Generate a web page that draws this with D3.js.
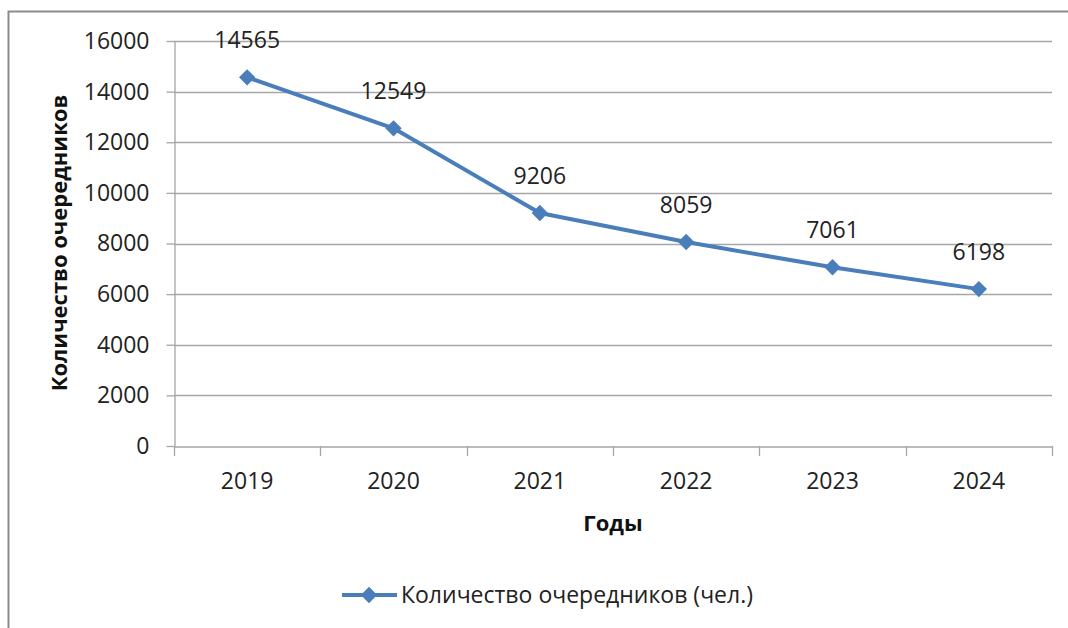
<!DOCTYPE html>
<html><head><meta charset="utf-8">
<script src="https://cdn.jsdelivr.net/npm/d3@7"></script>
<style>body{margin:0;background:#fff}svg{display:block}</style>
</head><body>
<script>
const years = ["2019","2020","2021","2022","2023","2024"];
const values = [14565, 12549, 9206, 8059, 7061, 6198];
const yTicks = [0,2000,4000,6000,8000,10000,12000,14000,16000];
const seriesName = "Количество очередников (чел.)";
const yTitle = "Количество очередников";
const xTitle = "Годы";

const W=1068,H=628;
const svg=d3.select("body").append("svg").attr("width",W).attr("height",H);
const font="'Open Sans', 'Liberation Sans', sans-serif";
const col="#4A7EBB";
const fs=23;

svg.append("rect").attr("x",8.5).attr("y",11.5).attr("width",1100).attr("height",700)
  .attr("fill","none").attr("stroke","#8c8c8c").attr("stroke-width",2);

const L=174,R=1052,T=41,B=446;
const x=d3.scaleBand().domain(years).range([L,R]);
const y=d3.scaleLinear().domain([0,16000]).range([B,T]);

svg.append("g").selectAll("line").data(yTicks.filter(d=>d>0)).join("line")
  .attr("x1",L).attr("x2",R).attr("y1",d=>Math.round(y(d))+0.5).attr("y2",d=>Math.round(y(d))+0.5)
  .attr("stroke","#a6a6a6").attr("stroke-width",1.3);

const yAx=svg.append("g").attr("transform",`translate(${L+0.5},0)`)
  .call(d3.axisLeft(y).tickValues(yTicks).tickFormat(d3.format("d")).tickSize(8).tickPadding(17).tickSizeOuter(0));
yAx.select(".domain").attr("stroke","#a6a6a6").attr("stroke-width",1.3);
yAx.selectAll(".tick line").attr("stroke","#a6a6a6").attr("stroke-width",1.3);
yAx.selectAll("text").attr("font-family",font).attr("font-size",fs).attr("fill","#222");

const xAx=svg.append("g").attr("transform",`translate(0,${B+0.5})`)
  .call(d3.axisBottom(x).tickSize(0).tickPadding(26));
xAx.select(".domain").attr("stroke","#a6a6a6").attr("stroke-width",1.3);
xAx.selectAll("text").attr("font-family",font).attr("font-size",fs).attr("fill","#222");
const bounds=years.map(d=>x(d)).concat([R]);
svg.append("g").selectAll("line").data(bounds).join("line")
  .attr("x1",d=>Math.round(d)+0.5).attr("x2",d=>Math.round(d)+0.5).attr("y1",B).attr("y2",B+10)
  .attr("stroke","#a6a6a6").attr("stroke-width",1.3);

const cx=d=>x(d)+x.bandwidth()/2;
const line=d3.line().x((d,i)=>cx(years[i])).y(d=>y(d));
svg.append("path").datum(values).attr("d",line).attr("fill","none")
  .attr("stroke",col).attr("stroke-width",4).attr("stroke-linejoin","round");
const diamond=d3.symbol().type(d3.symbolDiamond2).size(170);
svg.append("g").selectAll("path").data(values).join("path")
  .attr("d",diamond).attr("transform",(d,i)=>`translate(${cx(years[i])},${y(d)})`).attr("fill",col);

svg.append("g").selectAll("text").data(values).join("text")
  .attr("x",(d,i)=>cx(years[i])).attr("y",d=>y(d)-29)
  .attr("text-anchor","middle").attr("font-family",font).attr("font-size",fs).attr("fill","#222")
  .text(d=>d);

svg.append("text").attr("transform","translate(67,243) rotate(-90)").attr("text-anchor","middle")
  .attr("font-family",font).attr("font-size",22).attr("font-weight","bold").attr("fill","#111").text(yTitle);
svg.append("text").attr("x",613).attr("y",531).attr("text-anchor","middle")
  .attr("font-family",font).attr("font-size",22).attr("font-weight","bold").attr("fill","#111").text(xTitle);

const lg=svg.append("g");
lg.append("line").attr("x1",342).attr("x2",397).attr("y1",595).attr("y2",595).attr("stroke",col).attr("stroke-width",4);
lg.append("path").attr("d",diamond).attr("transform","translate(369,595)").attr("fill",col);
lg.append("text").attr("x",401).attr("y",603).attr("font-family",font).attr("font-size",fs).attr("fill","#222").text(seriesName);
</script>
</body></html>
